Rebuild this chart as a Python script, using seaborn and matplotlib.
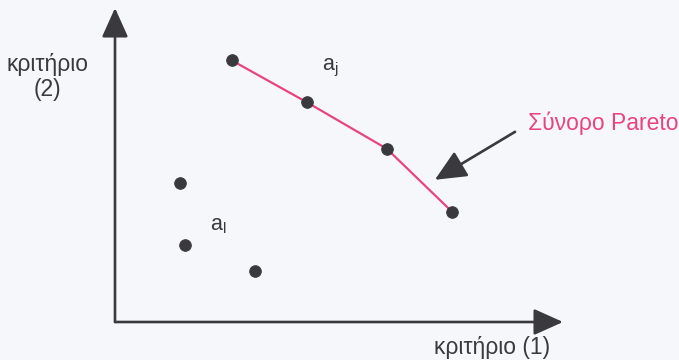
import matplotlib
matplotlib.use("Agg")
import matplotlib.pyplot as plt
import seaborn as sns
import pandas as pd

# Pareto frontier points (criterion 1, criterion 2)
pareto_x = [2.61, 4.28, 6.07, 7.52]
pareto_y = [5.83, 4.90, 3.86, 2.46]

# dominated points
other_x = [1.45, 1.56, 3.13]
other_y = [3.09, 1.72, 1.14]

label_front = "Σύνορο Pareto"
label_x = "κριτήριο (1)"
label_y = "κριτήριο\n(2)"

sns.set_theme(style="white")
plt.rcParams['font.family'] = ['Liberation Sans', 'DejaVu Sans']
plt.rcParams['mathtext.fontset'] = 'custom'
plt.rcParams['mathtext.rm'] = 'Liberation Sans'

bg = "#f6f7fb"
dark = "#3a3a3e"
pink = "#e8457e"
fs = 16.5

fig = plt.figure(figsize=(6.79, 3.6), dpi=100, facecolor=bg)
ax = fig.add_axes([115 / 679, 38 / 360, 448 / 679, 314 / 360])
ax.set_facecolor(bg)
ax.set_xlim(0, 10)
ax.set_ylim(0, 7)
for s in ax.spines.values():
    s.set_visible(False)
ax.set_xticks([])
ax.set_yticks([])

front = pd.DataFrame({'c1': pareto_x, 'c2': pareto_y})
others = pd.DataFrame({'c1': other_x, 'c2': other_y})

sns.lineplot(data=front, x='c1', y='c2', sort=False, color=pink, lw=1.6, ax=ax)
sns.scatterplot(data=front, x='c1', y='c2', color=dark, s=70, edgecolor=dark, zorder=3, ax=ax)
sns.scatterplot(data=others, x='c1', y='c2', color=dark, s=70, edgecolor=dark, zorder=3, ax=ax)
ax.set_xlabel('')
ax.set_ylabel('')

# axes with arrow heads
arrow_kw = dict(arrowstyle='-|>,head_length=1.0,head_width=0.45', lw=1.9,
                color=dark, mutation_scale=18, shrinkA=0, shrinkB=0)
ax.annotate('', xy=(1, 0), xytext=(0, 0), xycoords='axes fraction', arrowprops=arrow_kw)
ax.annotate('', xy=(0, 1), xytext=(0, 0), xycoords='axes fraction', arrowprops=arrow_kw)

ax.text(4.80, 5.66, r'a$_\mathrm{j}$', fontsize=fs - 1, color=dark, ha='center', va='center')
ax.text(2.30, 2.16, r'a$_\mathrm{l}$', fontsize=fs - 1, color=dark, ha='center', va='center')

ax.text(9.22, 4.44, label_front, fontsize=fs, color=pink, ha='left', va='center', clip_on=False)
ax.annotate('', xy=(7.14, 3.17), xytext=(8.93, 4.24),
            arrowprops=dict(arrowstyle='-|>,head_length=1.2,head_width=0.55', lw=1.9,
                            color=dark, mutation_scale=16, shrinkA=0, shrinkB=0))

ax.text(-1.50, 5.46, label_y, fontsize=fs, color=dark, ha='center', va='center',
        linespacing=1.1, clip_on=False)
ax.text(8.42, -0.56, label_x, fontsize=fs, color=dark, ha='center', va='center', clip_on=False)

fig.savefig("out.png", dpi=100, facecolor=bg)
